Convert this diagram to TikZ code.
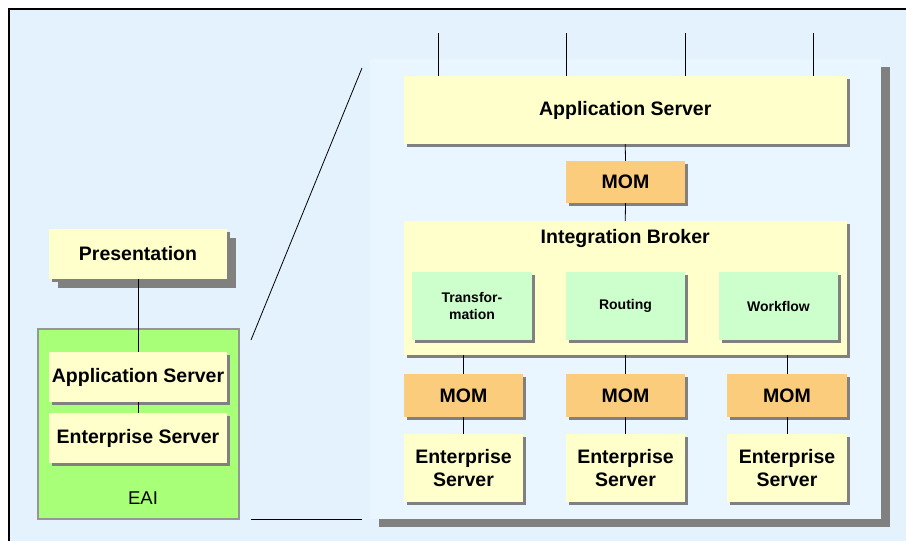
\documentclass[tikz,border=0pt]{standalone}
\usepackage{fontspec}
\setmainfont{Liberation Sans}
\usetikzlibrary{shadows}

\definecolor{bgblue}{RGB}{227,242,253}
\definecolor{panelblue}{RGB}{234,246,255}
\definecolor{boxyellow}{RGB}{255,255,204}
\definecolor{momorange}{RGB}{251,204,124}
\definecolor{subgreen}{RGB}{204,255,204}
\definecolor{eaigreen}{RGB}{168,255,120}
\definecolor{shadowgray}{RGB}{128,128,128}
\definecolor{eaiborder}{RGB}{150,150,150}

\tikzset{
  bigfont/.style={font=\fontsize{19.5}{23.5}\selectfont\bfseries},
  plainbox/.style={rectangle, inner sep=0pt, align=center, bigfont,
    drop shadow={shadow xshift=3pt, shadow yshift=-3pt, fill=shadowgray, opacity=1}},
  yellowbox/.style={plainbox, fill=boxyellow},
  mombox/.style={plainbox, fill=momorange, minimum width=119pt, minimum height=43pt},
  subbox/.style={plainbox, fill=subgreen, minimum width=119pt, minimum height=68pt,
    font=\fontsize{14}{17}\selectfont\bfseries},
  link/.style={line width=0.8pt}
}

\begin{document}
\begin{tikzpicture}[x=1pt, y=-1pt]
	\clip (0,0) rectangle (906,541);

	% outer frame and zoomed panel
	\fill[bgblue] (9,9) rectangle (930,560);
	\draw[line width=2pt] (9,9) rectangle (930,560);
	\fill[shadowgray] (379,67) rectangle (890,527);
	\fill[panelblue] (370,59) rectangle (881,519);

	% left side
	\node[yellowbox, minimum width=178pt, minimum height=50pt,
	  drop shadow={shadow xshift=9pt, shadow yshift=-9pt, fill=shadowgray, opacity=1}]
	  (pres) at (138,254) {Presentation};
	\node[rectangle, fill=eaigreen, draw=eaiborder, line width=2.5pt,
	  minimum width=201pt, minimum height=190pt] (eai) at (138.5,424) {};
	\node[font=\fontsize{18.5}{22}\selectfont] (eailabel) at (143,498) {EAI};
	\node[yellowbox, minimum width=178pt, minimum height=50pt] (lapp) at (138,377) {Application Server};
	\node[yellowbox, minimum width=178pt, minimum height=50pt] (lent) at (138,438) {Enterprise Server};

	\draw[link] (pres.south) -- (lapp.north);
	\draw[link] (lapp.south) -- (lent.north);

	% zoom lines
	\coordinate (z1) at (362,68);
	\coordinate (z2) at (251,340);
	\coordinate (z3) at (251,519);
	\coordinate (z4) at (362,519);
	\draw[link] (z1) -- (z2);
	\draw[link] (z3) -- (z4);

	% right side
	\node[yellowbox, minimum width=443.5pt, minimum height=68pt] (rapp) at (625.25,110) {Application Server};
	\node[mombox, minimum height=42pt] (mom0) at (625.5,182) {MOM};
	\node[yellowbox, minimum width=443.5pt, minimum height=134pt] (broker) at (625.25,288) {};
	\node[bigfont] (brokertxt) at (625.25,238) {Integration Broker};

	\node[subbox, minimum width=120pt] (trans) at (472,306) {Transfor-\\mation};
	\node[subbox] (rout) at (625.5,306) {Routing};
	\node[subbox] (work) at (778.5,306) {Workflow};

	\node[mombox] (mom1) at (463.5,395.5) {MOM};
	\node[mombox] (mom2) at (625.5,395.5) {MOM};
	\node[mombox, minimum width=120pt] (mom3) at (787,395.5) {MOM};

	\node[yellowbox, minimum width=119pt, minimum height=68pt] (es1) at (463.5,468) {Enterprise\\Server};
	\node[yellowbox, minimum width=119pt, minimum height=68pt] (es2) at (625.5,468) {Enterprise\\Server};
	\node[yellowbox, minimum width=120pt, minimum height=68pt] (es3) at (787,468) {Enterprise\\Server};

	% connectors
	\foreach \x [count=\i] in {438,566,685,813}
	  \coordinate (top\i) at (\x,33);
	\foreach \i in {1,...,4}
	  \draw[link] (top\i) -- (top\i |- rapp.north);
	\draw[link] (rapp.south) -- (mom0.north);
	\draw[link] (mom0.south) -- (broker.north);
	\foreach \i in {1,2,3} {
	  \draw[link] (mom\i.north |- broker.south) -- (mom\i.north);
	  \draw[link] (mom\i.south) -- (es\i.north);
	}

\end{tikzpicture}
\end{document}
